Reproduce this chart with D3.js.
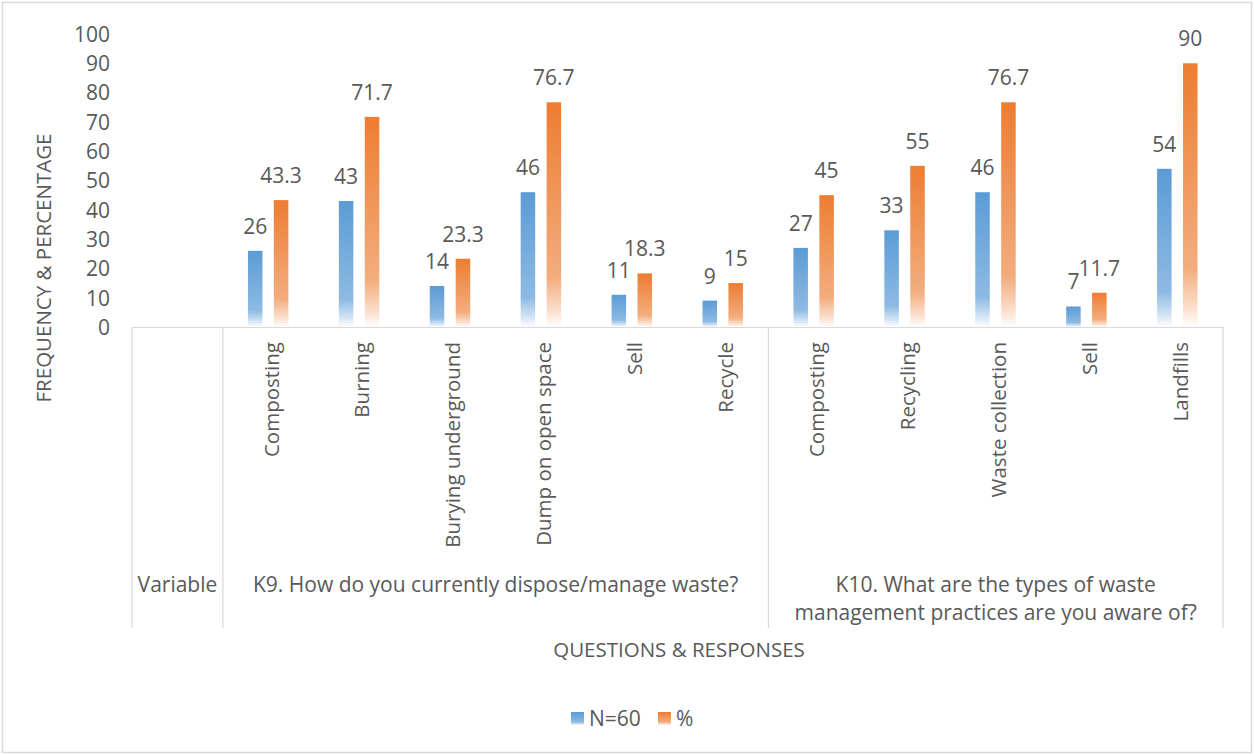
<!DOCTYPE html>
<html>
<head>
<meta charset="utf-8">
<script src="https://cdn.jsdelivr.net/npm/d3@7"></script>
<style>
  html, body { margin: 0; padding: 0; background: #fff; }
  svg { display: block; font-family: "Open Sans", "DejaVu Sans", sans-serif; }
</style>
</head>
<body>
<svg id="chart" width="1254" height="755"></svg>
<script>
// ---- data ----
const categories = ["Composting","Burning","Burying underground","Dump on open space","Sell","Recycle",
                    "Composting","Recycling","Waste collection","Sell","Landfills"];
const seriesNames = ["N=60", "%"];
const n60 = [26, 43, 14, 46, 11, 9, 27, 33, 46, 7, 54];
const pct = [43.3, 71.7, 23.3, 76.7, 18.3, 15, 45, 55, 76.7, 11.7, 90];
const groupLabels = [["Variable"], ["K9. How do you currently dispose/manage waste?"],
                     ["K10. What are the types of waste", "management practices are you aware of?"]];
const groupSpans = [1, 6, 5];
const yTicks = [0, 10, 20, 30, 40, 50, 60, 70, 80, 90, 100];
const yTitle = "FREQUENCY & PERCENTAGE";
const xTitle = "QUESTIONS & RESPONSES";

// ---- layout ----
const svg = d3.select("#chart");
const textColor = "#595959";
const lineColor = "#d9d9d9";
const left = 132, right = 1223, y0 = 327, y100 = 34, tableBottom = 628;

// outer border
svg.append("rect").attr("x", 2.5).attr("y", 2.5).attr("width", 1249).attr("height", 750)
  .attr("fill", "#fff").attr("stroke", lineColor).attr("stroke-width", 1.5);

// gradients
const defs = svg.append("defs");
const gradStops = [
  [{o:0,c:"#5B9BD5"},{o:0.78,c:"#8DBAE3"},{o:0.93,c:"#D6E6F5"},{o:1,c:"#FFFFFF"}],
  [{o:0,c:"#ED7D31"},{o:0.78,c:"#F3AD7E"},{o:0.93,c:"#FBE0CF"},{o:1,c:"#FFFFFF"}]
];
gradStops.forEach((stops, i) => {
  const g = defs.append("linearGradient").attr("id", "grad" + i)
    .attr("x1", 0).attr("y1", 0).attr("x2", 0).attr("y2", 1);
  stops.forEach(s => g.append("stop").attr("offset", s.o).attr("stop-color", s.c));
});

const slotKeys = d3.range(categories.length + 1); // slot 0 is "Variable"
const x = d3.scaleBand().domain(slotKeys).range([left, right]).padding(0);
const bw = x.bandwidth();
const x1 = d3.scaleBand().domain(seriesNames).range([bw * 0.275, bw * 0.72]).paddingInner(0.44).paddingOuter(0);
const y = d3.scaleLinear().domain([0, 100]).range([y0, y100]);

// y axis (labels only)
const yAxis = d3.axisLeft(y).tickValues(yTicks).tickSize(0).tickPadding(0);
const yg = svg.append("g").attr("transform", "translate(110,0)").call(yAxis);
yg.select(".domain").remove();
yg.selectAll("text").attr("fill", textColor).style("font-size", "21px")
  .style("font-family", '"Open Sans", sans-serif').attr("dy", "0.35em");

// bars
const rows = categories.map((c, i) => ({ slot: i + 1, vals: [n60[i], pct[i]] }));
const barG = svg.append("g");
rows.forEach(r => {
  seriesNames.forEach((s, si) => {
    const v = r.vals[si];
    barG.append("rect")
      .attr("x", x(r.slot) + x1(s))
      .attr("y", y(v))
      .attr("width", x1.bandwidth())
      .attr("height", y0 - y(v))
      .attr("fill", `url(#grad${si})`);
    barG.append("text")
      .attr("x", x(r.slot) + x1(s) + x1.bandwidth() / 2)
      .attr("y", y(v) - 17)
      .attr("text-anchor", "middle")
      .attr("fill", textColor)
      .style("font-size", "21px")
      .text(v);
  });
});

// category table lines
const tbl = svg.append("g").attr("stroke", lineColor).attr("stroke-width", 1.2);
tbl.append("line").attr("x1", left).attr("x2", right).attr("y1", y0 + 0.5).attr("y2", y0 + 0.5);
let acc = 0;
const bounds = [0];
groupSpans.forEach(s => { acc += s; bounds.push(acc); });
bounds.forEach(b => {
  const xx = b === 0 ? x(0) : (b >= slotKeys.length ? right : x(b));
  tbl.append("line").attr("x1", xx).attr("x2", xx).attr("y1", y0).attr("y2", tableBottom);
});

// category labels (rotated)
rows.forEach((r, i) => {
  const cx = x(r.slot) + bw / 2;
  svg.append("text")
    .attr("transform", `translate(${cx + 3},${y0 + 15}) rotate(-90)`)
    .attr("text-anchor", "end")
    .attr("dy", "0.35em")
    .attr("fill", textColor)
    .style("font-size", "20.5px")
    .text(categories[i]);
});

// group labels
groupLabels.forEach((lines, gi) => {
  const start = x(bounds[gi]);
  const end = bounds[gi + 1] >= slotKeys.length ? right : x(bounds[gi + 1]);
  const cx = (start + end) / 2;
  lines.forEach((ln, li) => {
    svg.append("text")
      .attr("x", cx)
      .attr("y", 585 + li * 28)
      .attr("dy", "0.35em")
      .attr("text-anchor", "middle")
      .attr("fill", textColor)
      .style("font-size", "21px")
      .text(ln);
  });
});

// axis titles
svg.append("text")
  .attr("transform", "translate(44,268) rotate(-90)")
  .attr("text-anchor", "middle").attr("dy", "0.35em")
  .attr("fill", textColor).style("font-size", "20.5px")
  .text(yTitle);
svg.append("text")
  .attr("x", 679).attr("y", 650).attr("dy", "0.35em")
  .attr("text-anchor", "middle")
  .attr("fill", textColor).style("font-size", "20.5px")
  .text(xTitle);

// legend
const legend = svg.append("g");
const legendItems = [{ name: "N=60", x: 571 }, { name: "%", x: 658 }];
legendItems.forEach((it, i) => {
  legend.append("rect").attr("x", it.x).attr("y", 712).attr("width", 13).attr("height", 13)
    .attr("fill", `url(#grad${i})`);
  legend.append("text").attr("x", it.x + 18).attr("y", 718.5).attr("dy", "0.35em")
    .attr("fill", textColor).style("font-size", "21px").text(it.name);
});
</script>
</body>
</html>
